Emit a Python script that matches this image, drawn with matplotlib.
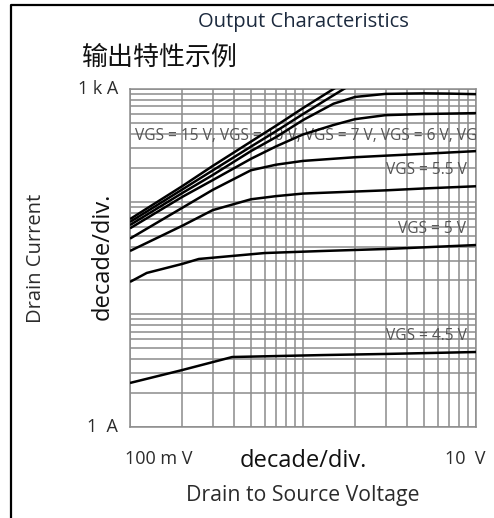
import matplotlib
matplotlib.use("Agg")
import matplotlib.pyplot as plt
from matplotlib.lines import Line2D
import matplotlib.transforms as mtransforms

# Output characteristics, drain current vs drain-source voltage (log-log)
v_15 = [0.1, 0.2, 0.3, 0.5, 0.7, 1.0, 1.5, 2.0]
i_15 = [70, 137, 207, 341, 473, 677, 1000, 1300]

v_10 = [0.1, 0.2, 0.3, 0.5, 0.7, 1.0, 1.5, 2.0]
i_10 = [66, 128, 189, 308, 423, 599, 880, 1150]

v_7 = [0.1, 0.2, 0.3, 0.5, 0.7, 1.0, 1.5, 2.0, 3.0, 5.0, 7.0, 10.0]
i_7 = [62, 119, 172, 281, 375, 530, 740, 850, 905, 915, 910, 900]

v_6 = [0.1, 0.2, 0.3, 0.5, 0.7, 1.0, 1.5, 2.0, 3.0, 5.0, 7.0, 10.0]
i_6 = [58, 110, 155, 240, 310, 395, 479, 540, 586, 600, 605, 611]

v_58 = [0.1, 0.2, 0.3, 0.5, 0.7, 1.0, 2.0, 3.0, 5.0, 10.0]
i_58 = [47, 88, 127, 190, 213, 230, 248, 256, 266, 281]

v_55 = [0.1, 0.2, 0.3, 0.5, 0.7, 1.0, 2.0, 3.0, 5.0, 10.0]
i_55 = [36.5, 61, 84, 105, 112, 118, 123, 126, 131, 137]

v_5 = [0.1, 0.125, 0.2, 0.25, 0.6, 1.3, 3.0, 10.0]
i_5 = [19.4, 23.3, 28, 31, 35, 36.5, 38, 41.2]

v_45 = [0.1, 0.2, 0.39, 1.3, 3.0, 10.0]
i_45 = [2.46, 3.2, 4.18, 4.35, 4.45, 4.63]

curves = [(v_15, i_15), (v_10, i_10), (v_7, i_7), (v_6, i_6),
          (v_58, i_58), (v_55, i_55), (v_5, i_5), (v_45, i_45)]

x_range = [0.1, 10]
y_range = [1, 1000]
x_tick_labels = ["100 m V", "10  V"]
y_tick_labels = ["1  A", "1 k A"]

label_top = "VGS = 15 V, VGS = 10 V, VGS = 7 V, VGS = 6 V, VGS = 5.8 V"
label_55 = "VGS = 5.5 V"
label_5 = "VGS = 5 V"
label_45 = "VGS = 4.5 V"

LATIN = ["Open Sans", "DejaVu Sans"]
TXT = "#2b2b2b"
GRID = "#8c8c8c"
LBL = "#555555"

W, H = 494, 518
fig = plt.figure(figsize=(W / 100, H / 100), dpi=100)
fig.patch.set_facecolor("white")

ax = fig.add_axes([130 / W, 1 - 427 / H, 346 / W, 338 / H])
ax.set_xscale("log")
ax.set_yscale("log")
ax.set_xlim(*x_range)
ax.set_ylim(*y_range)

ax.grid(True, which="both", color=GRID, lw=1.1, zorder=1)
ax.set_axisbelow(True)
for s in ax.spines.values():
    s.set_color(GRID)
    s.set_linewidth(1.1)
ax.tick_params(which="both", length=0, labelleft=False, labelbottom=False)

for v, i in curves:
    ax.plot(v, i, color="black", lw=1.8, zorder=4, solid_capstyle="butt")

# curve labels
lbl_size = 11.2
ax.text(0.107, 382, label_top, fontsize=lbl_size, family=LATIN, color=LBL,
        ha="left", va="center", zorder=3, clip_on=True)
ax.text(8.8, 190, label_55, fontsize=lbl_size, family=LATIN, color=LBL,
        ha="right", va="center", zorder=3)
ax.text(8.8, 57, label_5, fontsize=lbl_size, family=LATIN, color=LBL,
        ha="right", va="center", zorder=3)
ax.text(8.8, 6.4, label_45, fontsize=lbl_size, family=LATIN, color=LBL,
        ha="right", va="center", zorder=3)

# axis end labels
ytr = mtransforms.blended_transform_factory(ax.transAxes, ax.transData)
ax.text(-0.035, y_range[1], y_tick_labels[1], transform=ytr, fontsize=13,
        family=LATIN, color=TXT, ha="right", va="center")
ax.text(-0.035, y_range[0], y_tick_labels[0], transform=ytr, fontsize=13,
        family=LATIN, color=TXT, ha="right", va="center")
xtr = mtransforms.blended_transform_factory(ax.transData, ax.transAxes)
ax.text(0.1 * 0.94, -0.095, x_tick_labels[0], transform=xtr, fontsize=13,
        family=LATIN, color=TXT, ha="left", va="center")
ax.text(10 * 0.66, -0.095, x_tick_labels[1], transform=xtr, fontsize=13,
        family=LATIN, color=TXT, ha="left", va="center")

# titles and axis captions
fig.text(303 / W, 1 - 22 / H, "Output Characteristics", fontsize=14.5,
         family=LATIN, color="#1c2a3e", ha="center", va="center")
fig.text(82 / W, 1 - 57 / H, "输出特性示例", fontsize=18.7,
         family=["Noto Sans CJK SC", "DejaVu Sans"], color="#111111",
         ha="left", va="center")
fig.text(303 / W, 1 - 461 / H, "decade/div.", fontsize=17, family=LATIN,
         color="#111111", ha="center", va="center")
fig.text(303 / W, 1 - 496 / H, "Drain to Source Voltage", fontsize=15.3,
         family=LATIN, color=TXT, ha="center", va="center")
fig.text(36 / W, 1 - 258 / H, "Drain Current", fontsize=14.5, family=LATIN,
         color=TXT, ha="center", va="center", rotation=90)
fig.text(103 / W, 1 - 256 / H, "decade/div.", fontsize=17, family=LATIN,
         color="#111111", ha="center", va="center", rotation=90)

# outer frame (left and top edges)
fig.add_artist(Line2D([11 / W, 11 / W, 1.0], [0.0, 1 - 5 / H, 1 - 5 / H],
                      transform=fig.transFigure, color="black", lw=1.6))

fig.savefig("out.png", dpi=100)
